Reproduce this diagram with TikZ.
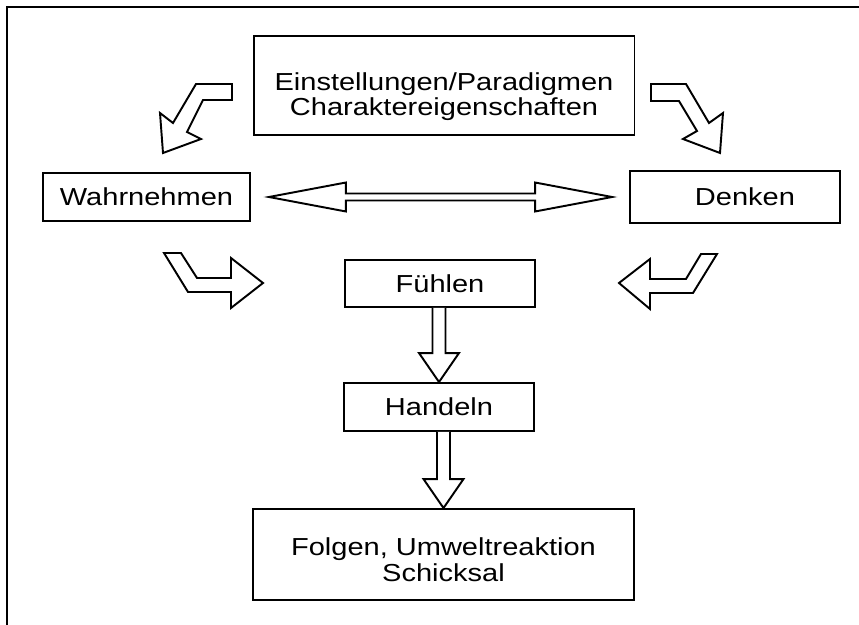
\documentclass[tikz,border=0pt]{standalone}
\usepackage{fontspec}
\setmainfont{Liberation Sans}[FakeStretch=1.18]
\usetikzlibrary{calc}

\tikzset{
  box/.style={draw, line width=1.1pt, align=center, inner sep=0pt, font=\fontsize{14}{14.5}\selectfont},
  blockarrow/.style={draw, line width=1.1pt, line join=miter, fill=white},
}
\newcommand{\blockdown}[2]{%
  \draw[blockarrow] ($(#1.south -| #2.north)+(-6.5,0)$) -- ($(#2.north)+(-6.5,-29)$)
    -- ($(#2.north)+(-20,-29)$) -- (#2.north) -- ($(#2.north)+(20,-29)$)
    -- ($(#2.north)+(6.5,-29)$) -- ($(#1.south -| #2.north)+(6.5,0)$);}

\begin{document}
\begin{tikzpicture}[x=0.02cm, y=-0.02cm]
  \useasboundingbox (0,0) rectangle (859,625);
  \draw[line width=1.6pt] (7,625) -- (7,7) -- (859,7);

  \node[box, minimum width=7.62cm, minimum height=1.98cm] (einst) at (444,85.5)
    {\rule{0pt}{23pt}Einstellungen/Paradigmen\\Charaktereigenschaften};
  \node[box, minimum width=4.14cm, minimum height=0.96cm] (wahr) at (146.5,197) {Wahrnehmen};
  \node[box, minimum width=4.2cm, minimum height=1.04cm] (denken) at (735,197) {\hspace*{0.4cm}Denken};
  \node[box, minimum width=3.8cm, minimum height=0.94cm] (fuehlen) at (440,283.5) {Fühlen};
  \node[box, minimum width=3.8cm, minimum height=0.96cm] (handeln) at (439,407) {Handeln};
  \node[box, minimum width=7.62cm, minimum height=1.82cm] (folgen) at (443.5,554.5)
    {\rule{0pt}{16pt}Folgen, Umweltreaktion\\Schicksal};

  % bent arrows
  \draw[blockarrow] (232,84) -- (196,84) -- (173,123) -- (160,113) -- (163,153)
    -- (201,139) -- (187,132) -- (203,100) -- (232,100) -- cycle;
  \draw[blockarrow] (651,84) -- (686,84) -- (709,123) -- (723,113) -- (720,153)
    -- (683,139) -- (697,131) -- (679,101) -- (651,101) -- cycle;
  \draw[blockarrow] (164,253) -- (181,253) -- (197,278) -- (231,278) -- (231,258)
    -- (263,283) -- (231,308) -- (231,292) -- (188,292) -- cycle;
  \draw[blockarrow] (717,254) -- (701,254) -- (686,279) -- (650,279) -- (650,259)
    -- (619,283) -- (650,309) -- (650,293) -- (693,293) -- cycle;

  % double arrow
  \coordinate (lt) at ($(wahr.east)+(18,0)$);
  \coordinate (rt) at ($(denken.west)+(-17,0)$);
  \draw[blockarrow] (lt) -- ($(lt)+(77,-14.5)$) -- ($(lt)+(77,-3.5)$)
    -- ($(rt)+(-77,-3.5)$) -- ($(rt)+(-77,-14.5)$) -- (rt) -- ($(rt)+(-77,14.5)$)
    -- ($(rt)+(-77,3.5)$) -- ($(lt)+(77,3.5)$) -- ($(lt)+(77,14.5)$) -- cycle;

  \blockdown{fuehlen}{handeln}
  \blockdown{handeln}{folgen}
\end{tikzpicture}
\end{document}
